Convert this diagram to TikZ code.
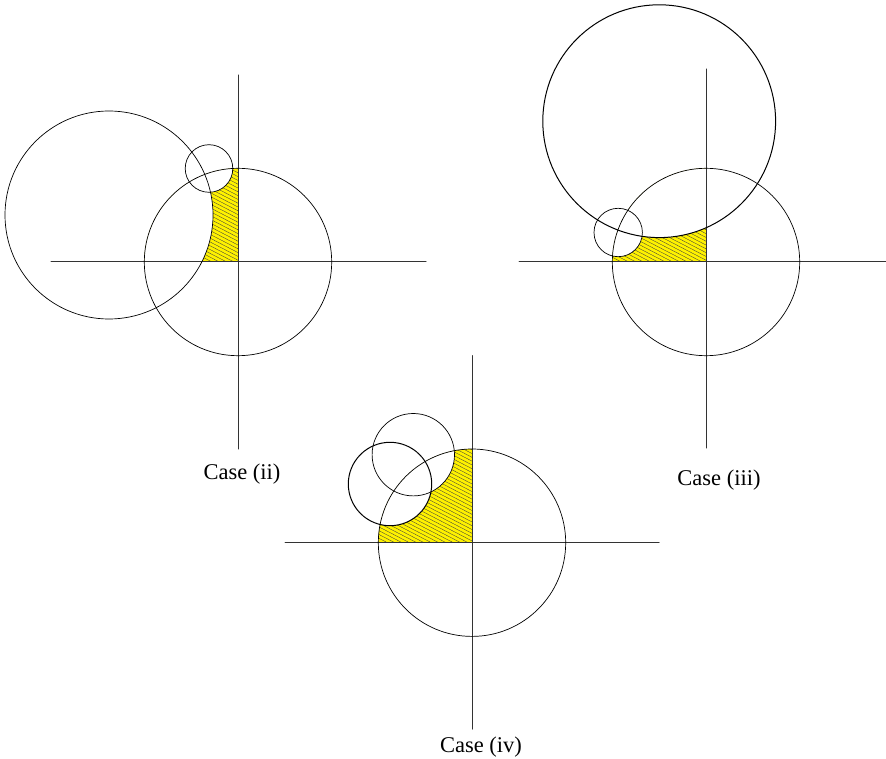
\documentclass[tikz,border=0pt]{standalone}
\usepackage{fontspec}
\setmainfont{Liberation Serif}
\tikzset{
  axis/.style={line width=1pt, black!80},
  circ/.style={line width=0.7pt},
  boldcirc/.style={line width=1pt},
  hatch/.style={line width=0.35pt, black!75},
  caption/.style={font=\fontsize{22.5}{27}\selectfont, anchor=base, inner sep=0pt}
}
\def\R{93.7pt}
% yellow, hatched upper left quadrant (clipped by the caller)
\newcommand\shadequad{%
  \fill[yellow] (-95,-95) rectangle (0,0);
  \foreach \k in {0,3.8,...,160} \draw[hatch] (-100,-160+\k) -- ++(110,57);
}
\begin{document}
\begin{tikzpicture}[x=1pt, y=-1pt, line join=round, line cap=round]
\useasboundingbox (0,0) rectangle (886,759);
% Case (ii)
\begin{scope}[shift={(238,262)}]
  \begin{scope}
    \clip (-95,-95) rectangle (0,0);
    \clip (0,0) circle (\R);
    \shadequad
    \fill[white] (-129,-47) circle (104pt);
    \fill[white] (-29,-93.5) circle (23.8pt);
  \end{scope}
  \draw[axis] (-187,0) -- (188,0);
  \draw[axis] (0,-187) -- (0,187);
  \draw[circ] (0,0) circle (\R);
  \draw[circ] (-129,-47) circle (104pt);
  \draw[circ] (-29,-93.5) circle (23.8pt);
\end{scope}
\node[caption] (capii) at (242,479) {Case (ii)};
% Case (iii)
\begin{scope}[shift={(706,262)}]
  \begin{scope}
    \clip (-95,-95) rectangle (0,0);
    \clip (0,0) circle (\R);
    \shadequad
    \fill[white] (-46.8,-140.8) circle (116.4pt);
    \fill[white] (-87.8,-29.5) circle (24.2pt);
  \end{scope}
  \draw[axis] (-187,0) -- (180,0);
  \draw[axis] (0,-193) -- (0,186);
  \draw[circ] (0,0) circle (\R);
  \draw[boldcirc] (-46.8,-140.8) circle (116.4pt);
  \draw[circ] (-87.8,-29.5) circle (24.2pt);
\end{scope}
\node[caption] (capiii) at (719,485) {Case (iii)};
% Case (iv)
\begin{scope}[shift={(472,542.7)}]
  \begin{scope}
    \clip (-95,-95) rectangle (0,0);
    \clip (0,0) circle (\R);
    \shadequad
    \fill[white] (-58.7,-88) circle (41.2pt);
    \fill[white] (-82,-58.7) circle (41.7pt);
  \end{scope}
  \draw[axis] (-187,0) -- (187,0);
  \draw[axis] (0,-187) -- (0,186.5);
  \draw[circ] (0,0) circle (\R);
  \draw[circ] (-58.7,-88) circle (41.2pt);
  \draw[boldcirc] (-82,-58.7) circle (41.7pt);
\end{scope}
\node[caption] (capiv) at (481,752) {Case (iv)};
\end{tikzpicture}
\end{document}
